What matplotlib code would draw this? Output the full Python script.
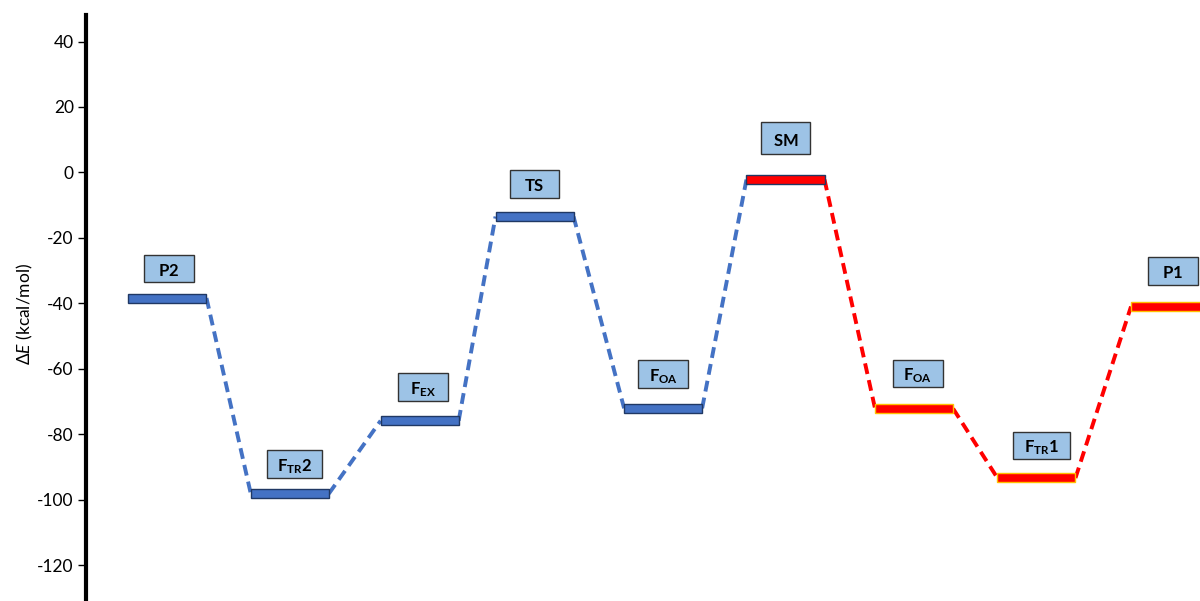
import matplotlib.pyplot as plt
from matplotlib.patches import Rectangle

plt.rcParams["font.family"] = ["Lato", "DejaVu Sans"]
plt.rcParams["mathtext.fontset"] = "custom"
plt.rcParams["mathtext.rm"] = "Lato"
plt.rcParams["mathtext.it"] = "Lato:italic"
plt.rcParams["mathtext.bf"] = "Lato:bold"

# --- data -------------------------------------------------------------
labels = [r"$\mathbf{P2}$", r"$\mathbf{F_{TR}2}$", r"$\mathbf{F_{EX}}$",
          r"$\mathbf{TS}$", r"$\mathbf{F_{OA}}$", r"$\mathbf{SM}$",
          r"$\mathbf{F_{OA}}$", r"$\mathbf{F_{TR}1}$", r"$\mathbf{P1}$"]
x_pos = [-0.01, 0.97, 2.01, 2.93, 3.96, 4.94, 5.97, 6.95, 8.02]
energy = [-38.4, -98.2, -75.9, -13.5, -72.1, -2.2, -72.2, -93.4, -41.0]
path = ["blue", "blue", "blue", "blue", "blue", "sm", "red", "red", "red"]

# --- layout / styles --------------------------------------------------
bar_w = 0.625
bar_h = 2.75
box_w = [0.40, 0.44, 0.40, 0.40, 0.40, 0.40, 0.40, 0.46, 0.40]
box_dx = [0.01, 0.04, 0.03, 0.0, 0.0, 0.0, 0.03, 0.04, 0.02]
box_gap = [3.5, 3.5, 4.7, 4.4, 4.9, 6.3, 5.1, 4.3, 5.3]
box_h = [8.4, 8.4, 8.4, 8.4, 8.4, 9.8, 8.5, 8.4, 8.4]

BLUE = "#4472C4"
NAVY = "#203864"
RED = "#FF0000"
GOLD = "#FFC000"
BOXC = "#9DC3E6"

fill = {"blue": BLUE, "sm": RED, "red": RED}
edge = {"blue": NAVY, "sm": NAVY, "red": GOLD}

fig = plt.figure(figsize=(12, 6.01), dpi=100)
ax = fig.add_axes([86.3 / 1200, 0.0, 1 - 86.3 / 1200, 586 / 601])

# dashed connectors
for i in range(len(energy) - 1):
    c = RED if path[i + 1] == "red" else BLUE
    ax.plot([x_pos[i] + bar_w / 2, x_pos[i + 1] - bar_w / 2],
            [energy[i], energy[i + 1]], color=c, lw=2.8,
            ls=(0, (2.8, 1.6)), dash_capstyle="butt", zorder=2)

# levels
for x, e, p in zip(x_pos, energy, path):
    ax.bar(x, bar_h, bottom=e - bar_h / 2, width=bar_w, color=fill[p],
           edgecolor=edge[p], linewidth=1.0, zorder=3)

# label boxes
for i, (x, e, lab) in enumerate(zip(x_pos, energy, labels)):
    bx = x + box_dx[i]
    by = e + bar_h / 2 + box_gap[i]
    ax.add_patch(Rectangle((bx - box_w[i] / 2, by), box_w[i], box_h[i],
                           facecolor=BOXC, edgecolor="#333333",
                           linewidth=1.0, zorder=4))
    ax.text(bx, by + box_h[i] * 0.42, lab, ha="center", va="center",
            fontsize=12, color="black", zorder=5)

ax.set_xlim(-0.66, 8.26)
ax.set_ylim(-131, 48.1)
ax.set_yticks(range(-120, 41, 20))
ax.set_yticklabels([str(v) for v in range(-120, 41, 20)])
ax.set_xticks([])
for s in ("top", "right", "bottom"):
    ax.spines[s].set_visible(False)
ax.spines["left"].set_linewidth(3.0)
ax.tick_params(axis="y", direction="out", length=6, width=1,
               labelsize=12.5, pad=3, colors="black")
ax.set_ylabel(r"$\Delta$$\it{E}$ (kcal/mol)", fontsize=12.5, labelpad=12)
ax.yaxis.set_label_coords(-0.046, 0.49)

fig.savefig("out.png", dpi=100)
